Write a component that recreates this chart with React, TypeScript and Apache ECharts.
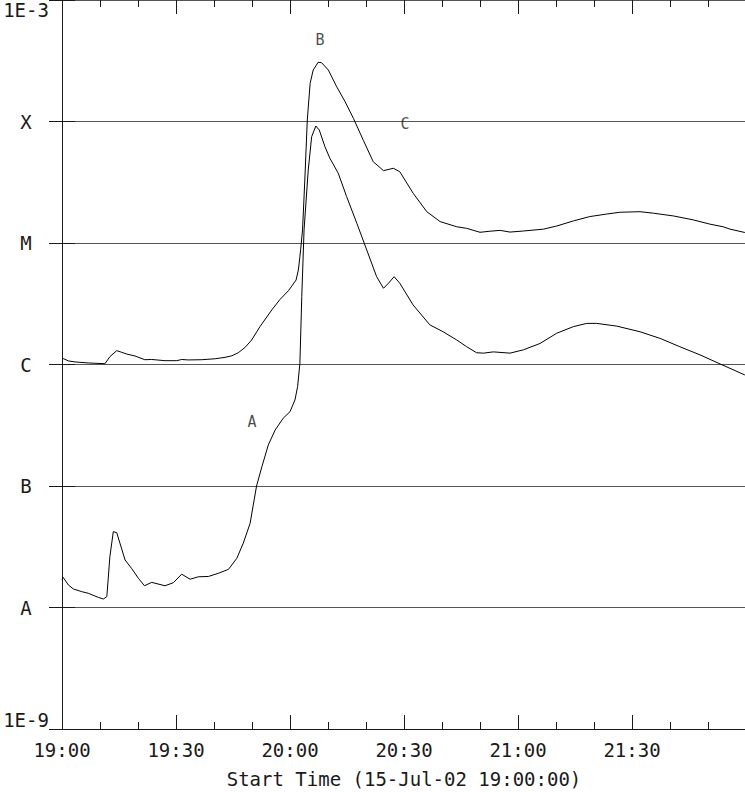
import React, { useEffect, useRef } from "react";
import * as echarts from "echarts";

// Minutes after 19:00 UT, 15-Jul-02
const timesLong = [0,0.3,1.7,3.4,6.9,11.3,12.6,14.4,15.7,17.0,19.2,21.8,23.6,27.1,30.2,31.5,33.2,36.8,40.3,42.9,44.7,46.4,48.2,49.9,52.1,55.2,57.4,59.6,61.6,62.2,62.6,62.8,63.3,63.9,64.55,65.3,66.1,67.4,68.3,70.1,72.3,74.5,76.7,79.3,81.9,84.6,87.2,88.9,92.4,96.0,99.5,103.9,106.5,110.0,112.6,115.3,117.9,121.4,126.7,130.2,134.6,138.9,143.3,146.8,152.1,155.6,160.9,166.1,170.5,174.0,175.8,179.7];
const fluxLong = [1.10e-6,1.12e-6,1.07e-6,1.05e-6,1.03e-6,1.015e-6,1.16e-6,1.30e-6,1.26e-6,1.22e-6,1.175e-6,1.095e-6,1.10e-6,1.075e-6,1.075e-6,1.10e-6,1.09e-6,1.095e-6,1.115e-6,1.145e-6,1.18e-6,1.25e-6,1.385e-6,1.59e-6,2.05e-6,2.81e-6,3.44e-6,4.05e-6,4.96e-6,6.0e-6,7.7e-6,8.8e-6,1.28e-5,3.3e-5,1.03e-4,2.06e-4,2.65e-4,3.07e-4,3.05e-4,2.65e-4,1.93e-4,1.455e-4,1.06e-4,7.0e-5,4.67e-5,3.94e-5,4.12e-5,3.86e-5,2.57e-5,1.81e-5,1.50e-5,1.36e-5,1.32e-5,1.225e-5,1.25e-5,1.27e-5,1.23e-5,1.255e-5,1.30e-5,1.38e-5,1.52e-5,1.65e-5,1.73e-5,1.79e-5,1.81e-5,1.76e-5,1.67e-5,1.55e-5,1.43e-5,1.36e-5,1.30e-5,1.22e-5];

const timesShort = [0,0.3,1.7,3.0,5.2,6.9,9.6,10.9,11.8,12.6,13.5,14.4,16.6,18.3,20.1,21.7,23.6,27.1,29.3,31.5,33.7,35.9,38.5,41.1,43.8,46.0,47.7,49.5,51.2,52.6,54.3,56.1,58.2,60.0,61.3,62.0,62.6,63.1,63.7,64.8,65.7,66.8,67.7,69.2,70.5,72.7,74.9,77.6,80.2,82.8,84.6,85.9,87.4,88.9,92.4,96.8,100.3,103.9,106.5,109.1,110.9,113.5,117.9,121.4,125.8,130.2,134.6,138.1,140.7,146.0,152.1,157.4,162.6,167.9,173.2,179.7];
const fluxShort = [1.70e-8,1.77e-8,1.53e-8,1.42e-8,1.35e-8,1.31e-8,1.21e-8,1.175e-8,1.23e-8,2.62e-8,4.21e-8,4.13e-8,2.46e-8,2.10e-8,1.74e-8,1.51e-8,1.61e-8,1.51e-8,1.60e-8,1.88e-8,1.71e-8,1.79e-8,1.80e-8,1.91e-8,2.06e-8,2.54e-8,3.38e-8,4.93e-8,1.0e-7,1.44e-7,2.18e-7,2.89e-7,3.61e-7,4.09e-7,5.10e-7,6.57e-7,1.02e-6,3.61e-6,1.28e-5,3.99e-5,7.50e-5,9.18e-5,8.51e-5,6.20e-5,4.98e-5,3.75e-5,2.41e-5,1.45e-5,8.76e-6,5.28e-6,4.24e-6,4.66e-6,5.28e-6,4.66e-6,3.09e-6,2.12e-6,1.86e-6,1.59e-6,1.40e-6,1.25e-6,1.24e-6,1.27e-6,1.24e-6,1.32e-6,1.49e-6,1.81e-6,2.05e-6,2.18e-6,2.18e-6,2.07e-6,1.86e-6,1.64e-6,1.40e-6,1.20e-6,1.01e-6,8.2e-7];

const annotationLabels = ["A", "B", "C"];
const annotationTimes = [50.0, 67.9, 90.3];
const annotationFlux = [3.36e-7, 4.69e-4, 9.54e-5];

const xTickMinutes = [0, 30, 60, 90, 120, 150];
const xTickLabels = ["19:00", "19:30", "20:00", "20:30", "21:00", "21:30"];
const yTickExponents = [-9, -8, -7, -6, -5, -4, -3];
const yTickLabels = ["1E-9", "A", "B", "C", "M", "X", "1E-3"];

const xTitle = "Start Time (15-Jul-02 19:00:00)";
const FONT = "'DejaVu Sans Mono', monospace";
const INK = "#1a1a1a";

export default function App() {
  const ref = useRef<HTMLDivElement>(null);

  useEffect(() => {
    if (!ref.current) return;
    const chart = echarts.init(ref.current, null, { renderer: "svg" });

    const xLabel = (v: number) => {
      const i = xTickMinutes.findIndex((m) => Math.abs(m - v) < 1e-6);
      return i >= 0 ? xTickLabels[i] : "";
    };
    const lastIdx = yTickExponents.length - 1;
    const yLabelFor = (which: "mid" | "min" | "max") => (v: number) => {
      const e = Math.round(Math.log10(v));
      const i = yTickExponents.indexOf(e);
      if (i < 0) return "";
      if (which === "min") return i === 0 ? yTickLabels[i] : "";
      if (which === "max") return i === lastIdx ? yTickLabels[i] : "";
      return i === 0 || i === lastIdx ? "" : yTickLabels[i];
    };

    const longData = timesLong.map((t, i) => [t, fluxLong[i]]);
    const shortData = timesShort.map((t, i) => [t, fluxShort[i]]);
    const annData = annotationTimes.map((t, i) => [t, annotationFlux[i]]);

    const xCommon = {
      type: "value",
      min: 0,
      max: 180,
      interval: 30,
      splitLine: { show: false },
      axisTick: { show: true, inside: true, length: 14, lineStyle: { color: INK, width: 1 } },
      minorTick: { show: true, splitNumber: 3, length: 7, lineStyle: { color: INK, width: 1 } },
      minorSplitLine: { show: false },
    };

    const yCommon = {
      type: "log",
      logBase: 10,
      min: 1e-9,
      max: 1e-3,
      interval: 1,
      axisTick: { show: true, inside: true, length: 13, lineStyle: { color: INK, width: 1 } },
      minorTick: { show: false },
    };

    const yLabelStyle = {
      show: true,
      align: "center",
      margin: 36,
      color: INK,
      fontFamily: FONT,
      fontSize: 19,
    };

    const labelOnlyY = (which: "min" | "max", va: string) => ({
      ...yCommon,
      position: "left",
      axisLine: { show: false },
      axisTick: { show: false },
      splitLine: { show: false },
      axisLabel: { ...yLabelStyle, verticalAlign: va, formatter: yLabelFor(which) },
    });

    chart.setOption({
      animation: false,
      backgroundColor: "#ffffff",
      grid: {
        left: 62,
        top: 0,
        width: 684,
        height: 729,
        containLabel: false,
        outerBoundsMode: "none",
      },
      xAxis: [
        {
          ...xCommon,
          position: "bottom",
          axisLine: { show: true, lineStyle: { color: INK, width: 1 } },
          axisLabel: {
            show: true,
            formatter: xLabel,
            margin: 11,
            color: INK,
            fontFamily: FONT,
            fontSize: 19,
            showMaxLabel: false,
          },
          name: xTitle,
          nameLocation: "middle",
          nameGap: 40,
          nameTextStyle: { color: INK, fontFamily: FONT, fontSize: 19 },
        },
        {
          ...xCommon,
          position: "top",
          axisLine: { show: false },
          axisLabel: { show: false },
        },
      ],
      yAxis: [
        {
          ...yCommon,
          position: "left",
          axisLine: { show: true, lineStyle: { color: INK, width: 1 } },
          splitLine: { show: true, lineStyle: { color: "#555555", width: 1 } },
          axisLabel: { ...yLabelStyle, formatter: yLabelFor("mid") },
        },
        {
          ...yCommon,
          position: "right",
          axisLine: { show: false },
          splitLine: { show: false },
          axisLabel: { show: false },
        },
        labelOnlyY("max", "top"),
        labelOnlyY("min", "bottom"),
      ],
      series: [
        {
          type: "line",
          name: "0.1-0.8 nm",
          data: longData,
          showSymbol: false,
          symbol: "none",
          lineStyle: { color: "#000000", width: 1 },
          silent: true,
        },
        {
          type: "line",
          name: "0.05-0.4 nm",
          data: shortData,
          showSymbol: false,
          symbol: "none",
          lineStyle: { color: "#000000", width: 1 },
          silent: true,
        },
        {
          type: "scatter",
          data: annData,
          symbolSize: 0,
          silent: true,
          label: {
            show: true,
            position: "inside",
            formatter: (p: any) => annotationLabels[p.dataIndex],
            color: INK,
            fontFamily: FONT,
            fontSize: 15,
          },
        },
      ],
    });

    return () => chart.dispose();
  }, []);

  return (
    <div
      ref={ref}
      style={{ position: "fixed", left: 0, top: 0, width: 745, height: 792, background: "#fff" }}
    />
  );
}
